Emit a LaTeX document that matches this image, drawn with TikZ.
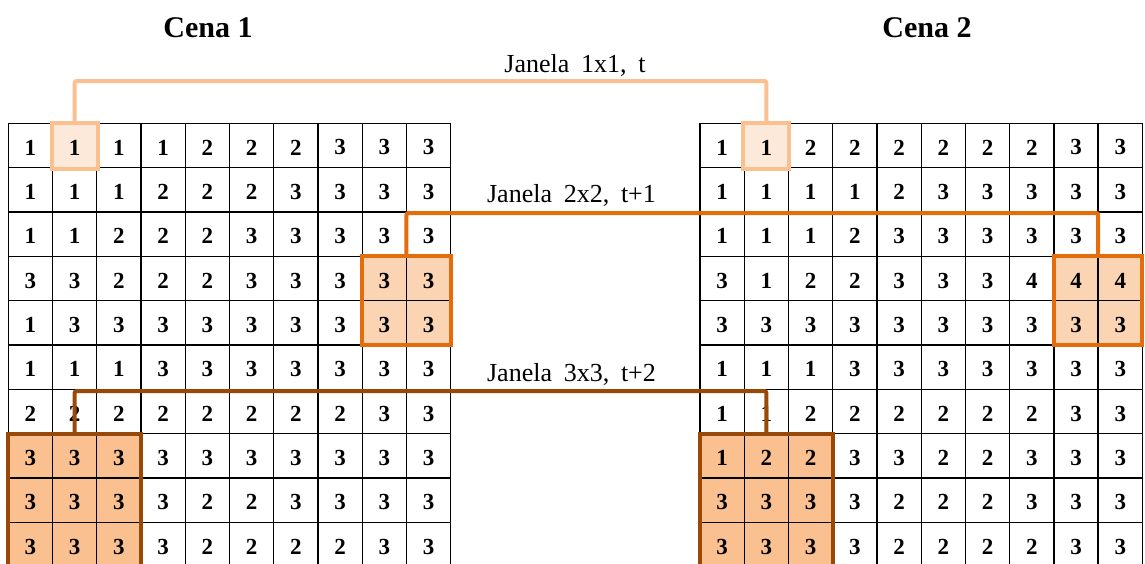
\documentclass[tikz,border=0pt]{standalone}
\usepackage{fontspec}
\setmainfont{Liberation Serif}
\newfontfamily\labfont[WordSpace=1.8]{Liberation Serif}
\definecolor{wAline}{HTML}{FAC090}
\definecolor{wAfill}{HTML}{FDE9D9}
\definecolor{wBline}{HTML}{E46C0A}
\definecolor{wBfill}{HTML}{FBD4B4}
\definecolor{wCline}{HTML}{984807}
\definecolor{wCfill}{HTML}{FAC090}
\tikzset{
  gridline/.style={line width=1.4pt, black, line cap=rect},
  num/.style={font=\bfseries\fontsize{23}{23}\selectfont, inner sep=0pt},
  winbox/.style={draw=none, inner sep=0pt, outer sep=0pt},
  winA/.style={line width=4pt, draw=wAline},
  winB/.style={line width=4pt, draw=wBline},
  winC/.style={line width=4pt, draw=wCline},
  conn/.style={line width=4pt, rounded corners=2pt},
  lab/.style={font=\labfont\fontsize{26}{26}\selectfont, inner sep=0pt, anchor=base},
  title/.style={font=\bfseries\fontsize{30}{30}\selectfont, inner sep=0pt, anchor=base}
}
\def\cw{44.24}
\def\ch{44.35}
\def\gy{123.3}
\begin{document}
\begin{tikzpicture}[x=1pt,y=-1pt]
\useasboundingbox (0,0) rectangle (1145,563);
\clip (0,0) rectangle (1145,563);

% window fills (named nodes)
\node[winbox, fill=wAfill, minimum width=46pt, minimum height=46pt] (wAa) at (74.66,145.5) {};
\node[winbox, fill=wAfill, minimum width=46pt, minimum height=46pt] (wAb) at (766.36,145.5) {};
\node[winbox, fill=wBfill, minimum width=88.5pt, minimum height=88.7pt] (wBa) at (406.46,300.7) {};
\node[winbox, fill=wBfill, minimum width=88.5pt, minimum height=88.7pt] (wBb) at (1098.16,300.7) {};
\node[winbox, fill=wCfill, minimum width=132.7pt, minimum height=133.05pt] (wCa) at (74.66,500.3) {};
\node[winbox, fill=wCfill, minimum width=132.7pt, minimum height=133.05pt] (wCb) at (766.36,500.3) {};

% grids
\foreach \gx in {8.3,700}{
  \foreach \i in {0,...,10}{
    \draw[gridline] ({\gx+\cw*\i},\gy) -- ({\gx+\cw*\i},{\gy+\ch*10});
    \draw[gridline] (\gx,{\gy+\ch*\i}) -- ({\gx+\cw*10},{\gy+\ch*\i});
  }
}

% window outlines
\draw[winA] (wAa.north west) rectangle (wAa.south east);
\draw[winA] (wAb.north west) rectangle (wAb.south east);
\draw[winB] (wBa.north west) rectangle (wBa.south east);
\draw[winB] (wBb.north west) rectangle (wBb.south east);
\draw[winC] (wCa.north west) rectangle (wCa.south east);
\draw[winC] (wCb.north west) rectangle (wCb.south east);

% numbers, scene 1
\foreach \row [count=\r from 0] in {
  {1,1,1,1,2,2,2,3,3,3},
  {1,1,1,2,2,2,3,3,3,3},
  {1,1,2,2,2,3,3,3,3,3},
  {3,3,2,2,2,3,3,3,3,3},
  {1,3,3,3,3,3,3,3,3,3},
  {1,1,1,3,3,3,3,3,3,3},
  {2,2,2,2,2,2,2,2,3,3},
  {3,3,3,3,3,3,3,3,3,3},
  {3,3,3,3,2,2,3,3,3,3},
  {3,3,3,3,2,2,2,2,3,3}}{
  \foreach \v [count=\c from 0] in \row {
    \node[num] (a-\r-\c) at ({8.3+\cw*(\c+0.5)},{\gy+\ch*(\r+0.5)+2}) {\v};
  }
}
% numbers, scene 2
\foreach \row [count=\r from 0] in {
  {1,1,2,2,2,2,2,2,3,3},
  {1,1,1,1,2,3,3,3,3,3},
  {1,1,1,2,3,3,3,3,3,3},
  {3,1,2,2,3,3,3,4,4,4},
  {3,3,3,3,3,3,3,3,3,3},
  {1,1,1,3,3,3,3,3,3,3},
  {1,1,2,2,2,2,2,2,3,3},
  {1,2,2,3,3,2,2,3,3,3},
  {3,3,3,3,2,2,2,3,3,3},
  {3,3,3,3,2,2,2,2,3,3}}{
  \foreach \v [count=\c from 0] in \row {
    \node[num] (b-\r-\c) at ({700+\cw*(\c+0.5)},{\gy+\ch*(\r+0.5)+2}) {\v};
  }
}

% connectors
\coordinate (jA) at (420,81);
\coordinate (jB) at (750,213);
\coordinate (jC) at (420,391);
\draw[conn, draw=wAline] (wAa.north) |- (jA) -| (wAb.north);
\draw[conn, draw=wBline] (wBa.north) |- (jB) -| (wBb.north);
\draw[conn, draw=wCline] (wCa.north) |- (jC) -| (wCb.north);

% labels
\node[lab] (lA) at (575,72) {Janela 1x1, t};
\node[lab] (lB) at (571.5,202) {Janela 2x2, t+1};
\node[lab] (lC) at (571.5,381) {Janela 3x3, t+2};
\node[title] (tA) at (208,37) {Cena 1};
\node[title] (tB) at (927,37) {Cena 2};
\end{tikzpicture}
\end{document}
